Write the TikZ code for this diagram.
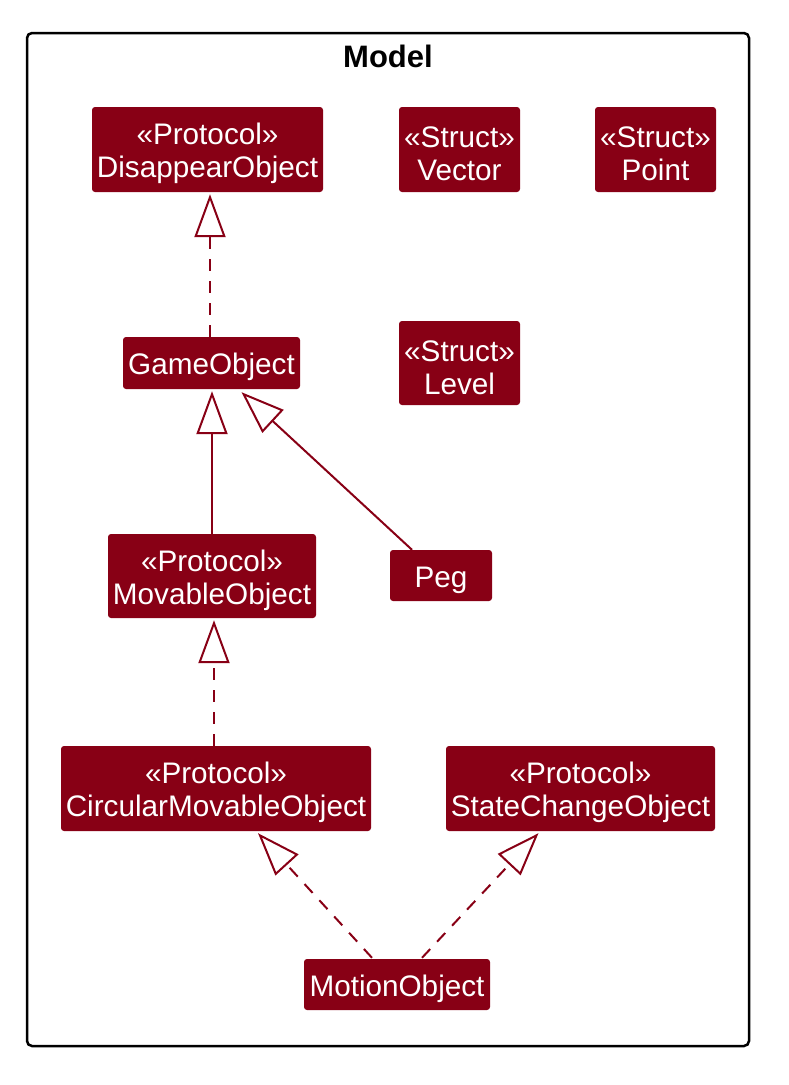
\documentclass[tikz,border=0pt]{standalone}
\usepackage{fontspec}
\setmainfont{Liberation Sans}
\usetikzlibrary{arrows.meta,calc}
\definecolor{umlred}{HTML}{880015}
\newcommand{\mytopstrut}{\rule{0pt}{30pt}}
\begin{document}
\begin{tikzpicture}[x=1pt,y=-1pt,
  cls/.style={fill=umlred,draw=none,rounded corners=3pt,text=white,align=center,
    font=\fontsize{29.7}{33}\selectfont,inner sep=0pt},
  gen/.style={draw=umlred,line width=2pt,-{Triangle[open,length=43pt,width=31pt,line width=2pt]}},
  real/.style={gen,dash pattern=on 12pt off 10pt}]
\useasboundingbox (0,0) rectangle (789,1085);
\draw[line width=2.5pt,rounded corners=5pt] (27,33) rectangle (749,1046);
\node[font=\bfseries\fontsize{31}{33}\selectfont] (title) at (388,56) {Model};
\node[cls,minimum width=231pt,minimum height=85pt] (disappear) at (207.5,149.5) {\mytopstrut«Protocol»\\DisappearObject};
\node[cls,minimum width=121pt,minimum height=85pt] (vector) at (459.5,149.5) {\mytopstrut«Struct»\\Vector};
\node[cls,minimum width=121pt,minimum height=85pt] (point) at (655.5,149.5) {\mytopstrut«Struct»\\Point};
\node[cls,minimum width=177pt,minimum height=52pt] (game) at (211.5,363) {\mytopstrut GameObject};
\node[cls,minimum width=121pt,minimum height=84pt] (level) at (459.5,363) {\mytopstrut«Struct»\\Level};
\node[cls,minimum width=208pt,minimum height=84pt] (movable) at (212,576) {\mytopstrut«Protocol»\\MovableObject};
\node[cls,minimum width=102pt,minimum height=51pt] (peg) at (441,575.5) {\mytopstrut Peg};
\node[cls,minimum width=310pt,minimum height=85pt] (circular) at (216,788.5) {\mytopstrut«Protocol»\\CircularMovableObject};
\node[cls,minimum width=269pt,minimum height=85pt] (state) at (580.5,788.5) {\mytopstrut«Protocol»\\StateChangeObject};
\node[cls,minimum width=186pt,minimum height=51pt] (motion) at (397,984.5) {\mytopstrut MotionObject};
\draw[real] (game.north -| 210,0) -- ($(disappear.south -| 210,0)+(0,2)$);
\draw[gen] (movable.north -| 212,0) -- ($(game.south -| 212,0)+(0,2)$);
\draw[gen] ($(peg.north)+(-29,0)$) -- ($(game.south)+(30,3)$);
\draw[real] (circular.north -| 214,0) -- ($(movable.south -| 214,0)+(0,2)$);
\draw[real] ($(motion.north)+(-25,-1)$) -- ($(circular.south)+(42,2)$);
\draw[real] ($(motion.north)+(25,-1)$) -- ($(state.south)+(-42,2)$);
\end{tikzpicture}
\end{document}
